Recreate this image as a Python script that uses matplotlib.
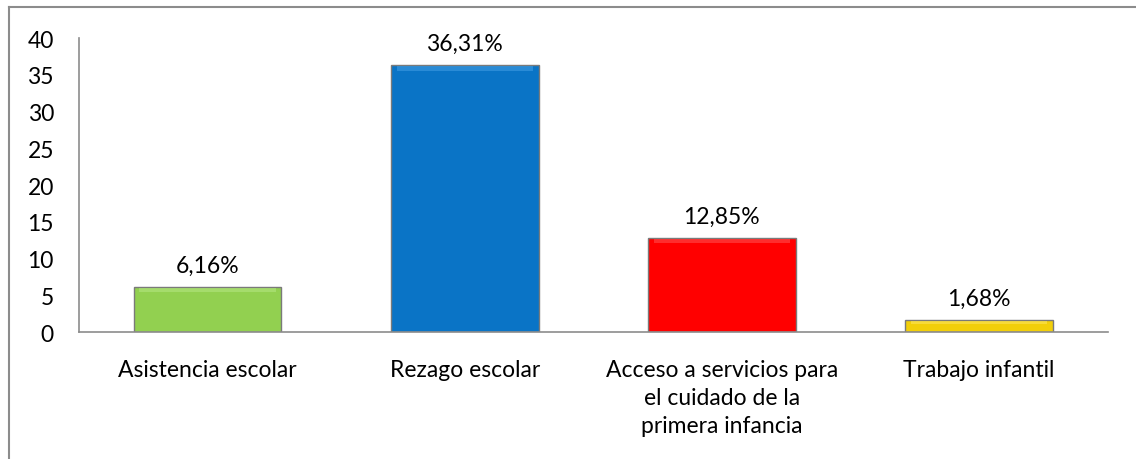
import matplotlib.pyplot as plt
from matplotlib.lines import Line2D

# data
categories = ['Asistencia escolar', 'Rezago escolar',
              'Acceso a servicios para\nel cuidado de la\nprimera infancia',
              'Trabajo infantil']
values = [6.16, 36.31, 12.85, 1.68]
value_labels = ['6,16%', '36,31%', '12,85%', '1,68%']
bar_colors = ['#92D050', '#0A74C6', '#FF0000', '#F2CF0A']
top_colors = ['#B8E889', '#4AA3E6', '#FF5A5A', '#FCE86A']
y_ticks = [0, 5, 10, 15, 20, 25, 30, 35, 40]

plt.rcParams['font.family'] = ['Lato', 'DejaVu Sans']

fig = plt.figure(figsize=(11.36, 4.6), dpi=100)
ax = fig.add_axes([0.0695, 0.276, 0.9055, 0.639])

x = range(len(values))
ax.bar(x, values, width=0.575, color=bar_colors, edgecolor='#7A7A7A', linewidth=1.0, zorder=2)
# light bevel strip along the top of each bar
for i, v in enumerate(values):
    strip = min(0.6, v * 0.25)
    ax.bar(i, strip, bottom=v - strip - 0.15, width=0.53, color=top_colors[i],
           linewidth=0, alpha=0.5, zorder=3)

for i, v in enumerate(values):
    ax.annotate(value_labels[i], (i, v), xytext=(0, 8), textcoords='offset points',
                ha='center', va='bottom', fontsize=16.5, color='#000000')

ax.set_xlim(-0.5, 3.5)
ax.set_ylim(0, 40)
ax.set_yticks(y_ticks)
ax.set_xticks(list(x))
ax.set_xticklabels(categories, fontsize=16.5, linespacing=1.42, va='top')
ax.tick_params(axis='y', length=0, pad=18, labelsize=16.5)
ax.tick_params(axis='x', length=0, pad=19.5)

for side in ['top', 'right']:
    ax.spines[side].set_visible(False)
for side in ['left', 'bottom']:
    ax.spines[side].set_color('#8C8C8C')
    ax.spines[side].set_linewidth(1.2)

# chart frame, cut at the right and bottom like the reference
fig.add_artist(Line2D([9 / 1136, 1.0], [1 - 8 / 460, 1 - 8 / 460], color='#8C8C8C', lw=1.5))
fig.add_artist(Line2D([9 / 1136, 9 / 1136], [0.0, 1 - 8 / 460], color='#8C8C8C', lw=1.5))

fig.savefig('out.png', dpi=100)
